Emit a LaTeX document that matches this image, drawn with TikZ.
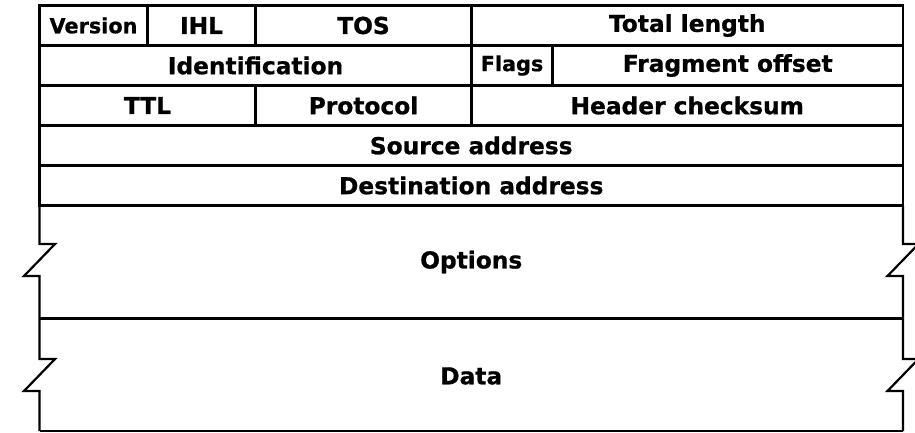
\documentclass[tikz,border=0pt]{standalone}
\usepackage{fontspec}
\setmainfont{DejaVu Sans}[BoldFont={DejaVu Sans Bold},BoldFeatures={FakeBold=0.8}]
\begin{document}
\begin{tikzpicture}[x=1pt,y=-1pt,line width=2.2pt,line join=miter,
  field/.style={font=\bfseries\fontsize{23.3}{25}\selectfont,inner sep=0pt,anchor=center},
  narrowfield/.style={font=\bfseries\fontsize{20.8}{22}\selectfont,inner sep=0pt,anchor=center}]
\useasboundingbox (0,0) rectangle (915,432);
% column boundaries (27 units per bit)
\def\xa{39.5}\def\xb{147.5}\def\xc{255.5}\def\xd{471.5}\def\xe{552.5}\def\xf{903}
% header rows
\draw (\xa,5.5) rectangle (\xf,205.5);
\foreach \y in {45.5,85.5,125.5,165.5} \draw (\xa,\y) -- (\xf,\y);
\draw (\xb,5.5) -- (\xb,45.5);
\draw (\xc,5.5) -- (\xc,45.5);
\draw (\xd,5.5) -- (\xd,125.5);
\draw (\xe,45.5) -- (\xe,85.5);
\draw (\xc,85.5) -- (\xc,125.5);
% options and data blocks with broken sides
\draw (\xa,205.5) -- (\xa,244) -- ++(15.5,0) -- ++(-31,32) -- ++(15.5,0) -- (\xa,318.5)
      -- (\xa,359) -- ++(15.5,0) -- ++(-31,32) -- ++(15.5,0) -- (\xa,431);
\draw (\xf,205.5) -- (\xf,244) -- ++(15.5,0) -- ++(-31,32) -- ++(15.5,0) -- (\xf,318.5)
      -- (\xf,359) -- ++(15.5,0) -- ++(-31,32) -- ++(15.5,0) -- (\xf,431);
\draw (\xa,318.5) -- (\xf,318.5);
\draw (\xa,431) -- (\xf,431);
% labels
\node[narrowfield] (version) at (93.5,25.5) {Version};
\node[field] (ihl) at (201.5,25.5) {IHL};
\node[field] (tos) at (363.5,25.5) {TOS};
\node[field] (totlen) at (687.25,25.5) {Total length};
\node[field] (ident) at (255.5,65.5) {Identification};
\node[narrowfield] (flags) at (512,65.5) {Flags};
\node[field] (fragoff) at (727.75,65.5) {Fragment offset};
\node[field] (ttl) at (147.5,105.5) {TTL};
\node[field] (proto) at (363.5,105.5) {Protocol};
\node[field] (cksum) at (687.25,105.5) {Header checksum};
\node[field] (src) at (471.25,145.5) {Source address};
\node[field] (dst) at (471.25,185.5) {Destination address};
\node[field] (opts) at (471.25,262) {Options};
\node[field] (data) at (471.25,376) {Data};
\end{tikzpicture}
\end{document}
